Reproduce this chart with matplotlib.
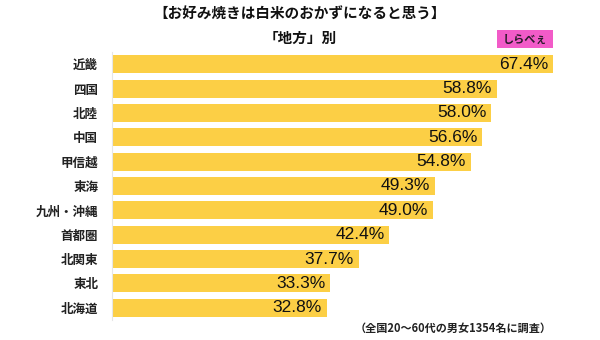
import matplotlib.pyplot as plt
from matplotlib.patches import Rectangle

plt.rcParams['font.family'] = ['Noto Sans CJK JP', 'DejaVu Sans']

# data
regions = ['近畿', '四国', '北陸', '中国', '甲信越', '東海', '九州・沖縄',
           '首都圏', '北関東', '東北', '北海道']
values = [67.4, 58.8, 58.0, 56.6, 54.8, 49.3, 49.0, 42.4, 37.7, 33.3, 32.8]

title = '【お好み焼きは白米のおかずになると思う】'
subtitle = '「地方」別'
note = '（全国20〜60代の男女1354名に調査）'

fig = plt.figure(figsize=(6, 3.4), dpi=100)
ax = fig.add_axes([112 / 600, 20 / 340, 441 / 600, 268 / 340])

ypos = list(range(len(regions)))
ax.barh(ypos, values, height=0.74, color='#FCCF45', zorder=2)
for y, v in zip(ypos, values):
    ax.text(v - 0.7, y, f'{v:.1f}%', ha='right', va='center',
            fontsize=12.5, family='Liberation Sans', color='#111111', zorder=3)

ax.set_xlim(0, 67.4)
ax.set_ylim(len(regions) - 0.5, -0.5)
ax.set_yticks(ypos)
ax.set_yticklabels(regions, fontsize=9, fontweight='bold', color='#222222')
ax.tick_params(axis='y', length=0, pad=10)
ax.set_xticks([])
for s in ['top', 'right', 'bottom']:
    ax.spines[s].set_visible(False)
ax.spines['left'].set_color('#e6e6e6')
ax.spines['left'].set_linewidth(0.8)

fig.text(0.5, 1 - 14 / 340, title, ha='center', va='center',
         fontsize=10.5, fontweight='bold', color='#111111')
fig.text(0.5, 1 - 38 / 340, subtitle, ha='center', va='center',
         fontsize=10.5, fontweight='bold', color='#111111')

# logo
fig.patches.append(Rectangle((497 / 600, 1 - 48 / 340), 56 / 600, 18 / 340,
                             transform=fig.transFigure, facecolor='#F25BC8',
                             edgecolor='none'))
fig.text(525 / 600, 1 - 39.5 / 340, 'しらべぇ', ha='center', va='center',
         fontsize=8, fontweight='bold', color='#2a1a2a')

fig.text(552 / 600, 1 - 328 / 340, note, ha='right', va='center',
         fontsize=8, fontweight='bold', color='#222222')

fig.savefig('out.png', dpi=100)
